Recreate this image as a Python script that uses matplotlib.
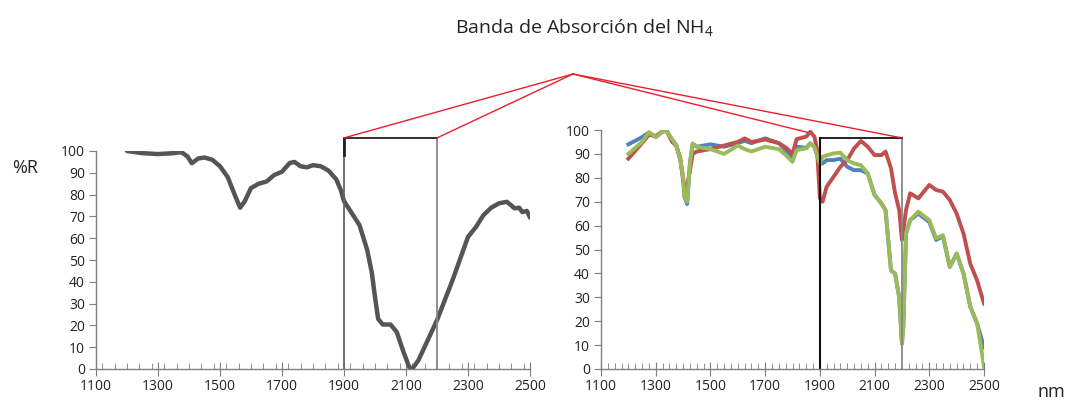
import matplotlib
matplotlib.use("Agg")
import matplotlib.pyplot as plt
from matplotlib.lines import Line2D
from matplotlib.ticker import MultipleLocator

plt.rcParams['font.family'] = ['Open Sans', 'DejaVu Sans']

# Left spectrum (single sample)
left_nm = [1200, 1250, 1300, 1350, 1375, 1395, 1409, 1430, 1450, 1475, 1500, 1525, 1550,
           1565, 1580, 1600, 1625, 1650, 1675, 1700, 1725, 1740, 1760, 1780, 1800, 1825,
           1850, 1875, 1890, 1900, 1925, 1950, 1975, 1990, 2000, 2010, 2025, 2050, 2070,
           2090, 2110, 2120, 2140, 2175, 2200, 2250, 2300, 2325, 2350, 2375, 2400, 2425,
           2440, 2450, 2465, 2475, 2490, 2500]
left_r = [100, 99, 98.6, 99, 99.5, 97.5, 94.4, 96.6, 97, 96, 93, 88, 79,
          74, 77, 83, 85, 86, 89, 90.5, 94.5, 95, 93, 92.5, 93.5, 93,
          91, 87, 82, 77, 71.5, 66, 54.5, 44, 33, 23, 20.4, 20.4, 17,
          8.6, 1, 0, 4, 14.7, 22.4, 40.7, 60.6, 65, 70.6, 74, 76, 76.7,
          75, 73.7, 74, 72, 72.5, 69.5]

# Right spectra (three samples)
right_nm = [1200, 1250, 1275, 1300, 1325, 1340, 1360, 1375, 1390, 1400, 1405, 1415, 1425,
            1435, 1450, 1500, 1550, 1600, 1625, 1650, 1700, 1750, 1780, 1800, 1815, 1850,
            1865, 1880, 1890, 1900, 1910, 1925, 1950, 1975, 2000, 2025, 2050, 2075, 2100,
            2125, 2140, 2160, 2175, 2190, 2200, 2205, 2215, 2230, 2260, 2300, 2325, 2350,
            2375, 2400, 2425, 2450, 2475, 2500]
blue_r = [94, 97, 99, 97, 99.4, 99.6, 96, 93.7, 87.4, 80.4, 72, 69, 86,
          94, 93, 94, 93, 94.5, 95.5, 94.5, 96.5, 94.5, 91, 88, 93, 92.5,
          94.4, 93, 89.4, 86, 86, 87.4, 87.4, 88, 84.6, 83.2, 83.2, 81.8, 72.8,
          69.3, 66.5, 41.3, 39.9, 30, 10.6, 17.6, 56.7, 62.3, 65, 61.5, 54, 55.5,
          42.7, 48.3, 40, 26, 19, 9]
red_r = [88, 94.5, 98, 97.5, 99.4, 99.6, 95, 93.5, 88, 79, 76, 77, 83,
         90, 91, 92, 93.5, 95, 96.5, 95, 96, 94.5, 92.3, 90, 96.2, 97.2,
         99.3, 97.2, 91.6, 71.5, 70, 76.3, 80.4, 84.6, 87.4, 92.3, 95.4, 93, 89.5,
         89.5, 91, 84, 73.5, 66.5, 54, 58, 66.5, 73.5, 71.4, 77, 74.9, 74.2,
         70.7, 65, 56.7, 44, 37, 27.4]
green_r = [90, 95, 99, 97, 99.4, 99.6, 96, 93.7, 87.4, 80.4, 72, 70, 86,
           94.4, 93, 92, 90, 93.5, 92, 91, 93, 92, 89, 86.7, 91.6, 92.3,
           94.4, 93, 89.4, 86, 88.8, 89.4, 90.2, 90.5, 87.4, 86, 85.3, 81.8, 72.8,
           69.3, 66.5, 41.3, 39.9, 30, 10.6, 17.6, 56.7, 62.3, 65.8, 62.3, 54.6, 56,
           42.7, 48.3, 40, 26, 19, 1]

fig = plt.figure(figsize=(10.68, 4.01), dpi=100)
W, H = 1068, 401

ax1 = fig.add_axes([96 / W, (H - 369) / H, 434 / W, 218 / H])
ax2 = fig.add_axes([601 / W, (H - 369) / H, 383 / W, 239 / H])

ax1.plot(left_nm, left_r, color='#555555', lw=3.2, solid_capstyle='round')
ax2.plot(right_nm, blue_r, color='#4F81BD', lw=2.8)
ax2.plot(right_nm, red_r, color='#C0504D', lw=2.8)
ax2.plot(right_nm, green_r, color='#9BBB59', lw=2.8)

for ax, minor in [(ax1, 40), (ax2, 25)]:
    ax.set_xlim(1100, 2500)
    ax.set_ylim(0, 100)
    ax.set_xticks(range(1100, 2501, 200))
    ax.xaxis.set_minor_locator(MultipleLocator(minor))
    ax.set_yticks(range(0, 101, 10))
    for s in ['top', 'right']:
        ax.spines[s].set_visible(False)
    for s in ['left', 'bottom']:
        ax.spines[s].set_color('#7f7f7f')
        ax.spines[s].set_linewidth(1)
    ax.tick_params(axis='x', which='major', direction='inout', length=10, color='#7f7f7f',
                   labelsize=10, labelcolor='#222222', pad=2)
    ax.tick_params(axis='x', which='minor', direction='in', length=4, color='#7f7f7f')
    ax.tick_params(axis='y', direction='out', length=5, color='#7f7f7f',
                   labelsize=10, labelcolor='#222222', pad=3)
    ax.patch.set_alpha(0)

# Zoom boxes around the NH4 band
box1_top = 106
ax1.plot([1900, 1900], [0, box1_top], color='#666666', lw=1.3, clip_on=False)
ax1.plot([2200, 2200], [0, box1_top], color='#888888', lw=1.3, clip_on=False)
ax1.plot([1900, 2200], [box1_top, box1_top], color='#222222', lw=1.3, clip_on=False)
ax1.plot([1900, 1900], [98, box1_top], color='#222222', lw=2, clip_on=False)

box2_top = 96.7
ax2.plot([1900, 1900], [0, box2_top], color='#111111', lw=1.5, clip_on=False)
ax2.plot([2200, 2200], [0, box2_top], color='#888888', lw=1.3, clip_on=False)
ax2.plot([1900, 2200], [box2_top, box2_top], color='#111111', lw=1.3, clip_on=False)

# Red lines from the label point to the boxes
apex = (573 / W, (H - 74) / H)
to_fig = fig.transFigure.inverted()
for ax, pt in [(ax1, (1900, box1_top)), (ax1, (2200, box1_top)),
               (ax2, (1855, 99)), (ax2, (2200, box2_top))]:
    end = to_fig.transform(ax.transData.transform(pt))
    fig.add_artist(Line2D([apex[0], end[0]], [apex[1], end[1]],
                          transform=fig.transFigure, color='#e8202a', lw=1))

fig.text(585 / W, 1 - 28 / H, 'Banda de Absorción del NH$_{\\mathregular{4}}$', ha='center',
         va='center', fontsize=14, color='#222222')
fig.text(25 / W, 1 - 168 / H, '%R', ha='center', va='center', fontsize=13, color='#222222')
fig.text(1051 / W, 1 - 392 / H, 'nm', ha='center', va='center', fontsize=13, color='#222222')

fig.savefig('out.png', dpi=100)
